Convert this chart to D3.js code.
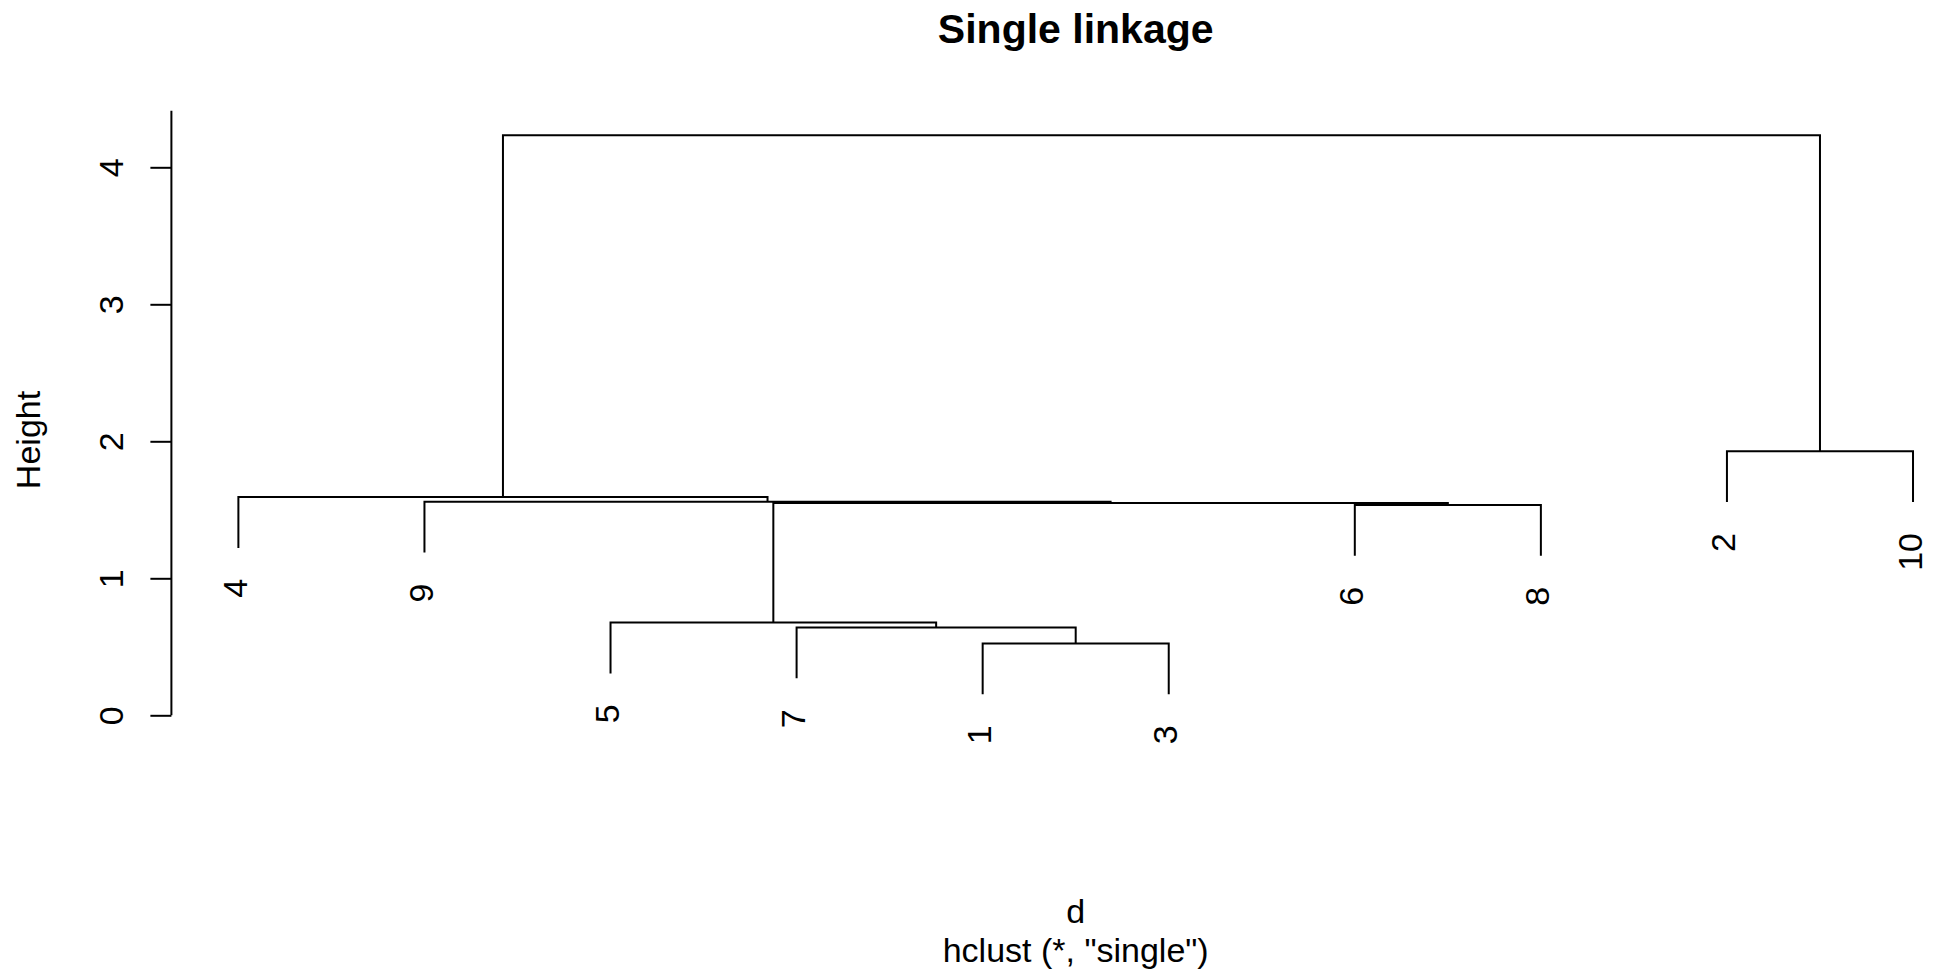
<!DOCTYPE html>
<html>
<head>
<meta charset="utf-8">
<script src="https://cdn.jsdelivr.net/npm/d3@7"></script>
<style>
  html, body { margin: 0; padding: 0; background: #fff; }
  svg text { font-family: "Liberation Sans", Arial, Helvetica, sans-serif; fill: #000; }
</style>
</head>
<body>
<svg id="chart" width="1933" height="972"></svg>
<script>
// leaf labels in plotting order (left to right)
var leafOrder = [4, 9, 5, 7, 1, 3, 6, 8, 2, 10];
// hclust merge table: negative = leaf id, positive = earlier merge step
var mergeLeft  = [-1, -7, -5, -6, 3, -9, -4, -2, 7];
var mergeRight = [-3,  1,  2, -8, 4,  5,  6, -10, 8];
var mergeHeight = [0.524, 0.641, 0.677, 1.535, 1.549, 1.559, 1.593, 1.928, 4.234];
var yTicks = [0, 1, 2, 3, 4];

var svg = d3.select("#chart");

var WIDTH = 1933;
var PLOT_LEFT = 171.4;
var PLOT_RIGHT = 1980;   // plot region runs past the page edge, as in the original
var FONT = 34;

var n = leafOrder.length;
var xScale = d3.scaleLinear()
  .domain([1 - 0.04 * (n - 1), n + 0.04 * (n - 1)])
  .range([PLOT_LEFT, PLOT_RIGHT]);
var yScale = d3.scaleLinear()
  .domain([0, 4])
  .range([715.3, 167.3]);

// labels hang below their merge by 10% of the height range
var hang = 0.1 * (d3.max(mergeHeight) - d3.min(mergeHeight));

// position of each leaf
var leafX = {};
leafOrder.forEach(function(id, i){ leafX[id] = xScale(i + 1); });

var nodeX = [];
function childX(c){ return c < 0 ? leafX[-c] : nodeX[c - 1]; }
function childY(c, h){ return c < 0 ? h - hang : mergeHeight[c - 1]; }

var segs = [];
var leaves = [];
for (var k = 0; k < mergeHeight.length; k++) {
  var a = mergeLeft[k], b = mergeRight[k], h = mergeHeight[k];
  var xa = childX(a), xb = childX(b);
  nodeX.push((xa + xb) / 2);
  segs.push({x1: xa, y1: childY(a, h), h: h, x2: xb, y2: childY(b, h)});
  if (a < 0) leaves.push({id: -a, x: xa, bottom: h - hang});
  if (b < 0) leaves.push({id: -b, x: xb, bottom: h - hang});
}

svg.append("g").selectAll("path")
  .data(segs)
  .enter().append("path")
  .attr("fill", "none")
  .attr("stroke", "#000")
  .attr("stroke-width", 2)
  .attr("d", function(d){
    return "M" + d.x1 + "," + yScale(d.y1) +
           "V" + yScale(d.h) +
           "H" + d.x2 +
           "V" + yScale(d.y2);
  });

svg.append("g").selectAll("text")
  .data(leaves)
  .enter().append("text")
  .attr("font-size", FONT)
  .attr("text-anchor", "end")
  .attr("transform", function(d){
    return "translate(" + (d.x + 8.5) + "," + (yScale(d.bottom) + 31) + ") rotate(-90)";
  })
  .text(function(d){ return d.id; });

// y axis
var axisTop = 4.413;
var axis = svg.append("g")
  .attr("transform", "translate(" + PLOT_LEFT + ",0)")
  .call(d3.axisLeft(yScale).tickValues(yTicks).tickSize(21).tickSizeOuter(0).tickFormat(d3.format("d")));
axis.select(".domain")
  .attr("d", "M0," + yScale(0) + "V" + yScale(axisTop))
  .attr("stroke-width", 2);
axis.selectAll(".tick line").attr("stroke-width", 2);
axis.selectAll(".tick text")
  .attr("x", null).attr("dy", null)
  .attr("font-size", FONT)
  .attr("font-family", null)
  .attr("text-anchor", "middle")
  .attr("transform", "translate(-48.5,0) rotate(-90)");

svg.append("text")
  .attr("font-size", FONT)
  .attr("text-anchor", "middle")
  .attr("transform", "translate(39.5,440) rotate(-90)")
  .text("Height");

var midX = (PLOT_LEFT + PLOT_RIGHT) / 2;
svg.append("text")
  .attr("x", midX).attr("y", 43)
  .attr("font-size", 41)
  .attr("font-weight", "bold")
  .attr("text-anchor", "middle")
  .text("Single linkage");

svg.append("text")
  .attr("x", midX).attr("y", 923)
  .attr("font-size", FONT)
  .attr("text-anchor", "middle")
  .text("d");

svg.append("text")
  .attr("x", midX).attr("y", 962)
  .attr("font-size", FONT)
  .attr("text-anchor", "middle")
  .text("hclust (*, \"single\")");
</script>
</body>
</html>
